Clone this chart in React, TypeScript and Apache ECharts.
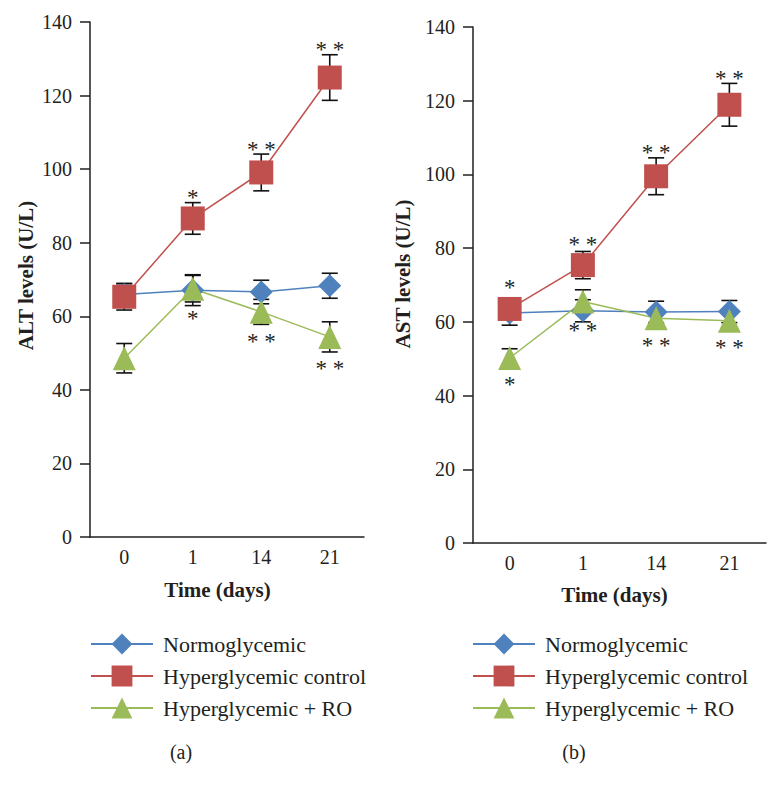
import React, { useEffect, useRef } from "react";
import * as echarts from "echarts";

// ---- data ----
const days = ["0", "1", "14", "21"];
const seriesNames = ["Normoglycemic", "Hyperglycemic control", "Hyperglycemic + RO"];

const altNormo = [65.9, 67.1, 66.6, 68.3];
const altNormoErr = [3.0, 4.2, 3.2, 3.4];
const altCtl = [65.3, 86.6, 99.1, 124.9];
const altCtlErr = [3.6, 4.3, 5.0, 6.2];
const altRO = [48.6, 67.5, 61.2, 54.4];
const altROErr = [4.0, 3.6, 3.4, 4.1];
const altCtlSig = ["", "*", "**", "**"];
const altROSig = ["", "*", "**", "**"];

const astNormo = [62.4, 63.0, 62.7, 62.8];
const astNormoErr = [3.3, 3.0, 2.9, 3.0];
const astCtl = [63.5, 75.4, 99.5, 118.9];
const astCtlErr = [2.8, 3.7, 5.0, 5.8];
const astRO = [50.2, 65.5, 61.0, 60.3];
const astROErr = [2.5, 3.2, 2.0, 2.0];
const astCtlSig = ["*", "**", "**", "**"];
const astROSig = ["*", "**", "**", "**"];

const FONT = "'Liberation Serif', 'DejaVu Serif', serif";
const TXT = "#231f20";
const BLUE = "#4F81BD";
const RED = "#C0504D";
const GREEN = "#9BBB59";

function lineSeries(name: string, data: number[], idx: number, color: string, symbol: string, size: number[]) {
  return {
    type: "line",
    name,
    xAxisIndex: idx,
    yAxisIndex: idx,
    data,
    symbol,
    symbolSize: size,
    itemStyle: { color, opacity: 1 },
    lineStyle: { color, width: 1.5 },
    z: 3,
  };
}

function errSeries(means: number[], errs: number[], sigs: string[], above: boolean, idx: number, key: string) {
  return {
    type: "custom",
    name: "err-" + key,
    xAxisIndex: idx,
    yAxisIndex: idx,
    z: 2,
    silent: true,
    data: means.map((m, i) => [i, m, errs[i]]),
    renderItem: (params: any, api: any) => {
      const i = api.value(0);
      const m = api.value(1);
      const e = api.value(2);
      const c = api.coord([i, m]);
      const t = api.coord([i, m + e]);
      const b = api.coord([i, m - e]);
      const x = c[0];
      const hw = 8;
      const st = { stroke: "#111", lineWidth: 1.6 };
      const children: any[] = [
        { type: "line", shape: { x1: x, y1: t[1], x2: x, y2: b[1] }, style: st },
        { type: "line", shape: { x1: x - hw, y1: t[1], x2: x + hw, y2: t[1] }, style: st },
        { type: "line", shape: { x1: x - hw, y1: b[1], x2: x + hw, y2: b[1] }, style: st },
      ];
      const sig = sigs[params.dataIndex];
      if (sig) {
        const y = above ? Math.min(c[1] - 24, t[1] - 8) : Math.max(c[1] + 24, b[1] + 14);
        children.push({
          type: "text",
          x,
          y: y + 3,
          z2: 10,
          style: {
            text: sig.split("").join(" "),
            fontSize: 23,
            fontFamily: FONT,
            fill: TXT,
            align: "center",
            verticalAlign: "middle",
          },
        });
      }
      return { type: "group", children };
    },
  };
}

function xAxis(idx: number, gap: number, shift: number) {
  return {
    type: "category",
    gridIndex: idx,
    data: days,
    boundaryGap: true,
    axisLine: { lineStyle: { color: TXT, width: 1.5 } },
    axisTick: { show: false },
    axisLabel: { fontFamily: FONT, fontSize: 20, color: TXT, margin: 10 },
    name: "Time (days)",
    nameLocation: "middle",
    nameGap: gap,
    nameTextStyle: { fontFamily: FONT, fontSize: 21, fontWeight: "bold", color: TXT, padding: [0, shift, 0, 0] },
  };
}

function yAxis(idx: number, name: string, gap: number, shift: number) {
  return {
    type: "value",
    gridIndex: idx,
    min: 0,
    max: 140,
    interval: 20,
    axisLine: { show: true, lineStyle: { color: TXT, width: 1.5 } },
    axisTick: { show: true, length: 10, lineStyle: { color: TXT, width: 1.5 } },
    splitLine: { show: false },
    axisLabel: { fontFamily: FONT, fontSize: 20, color: TXT, margin: 18 },
    name,
    nameLocation: "middle",
    nameGap: gap,
    nameTextStyle: { fontFamily: FONT, fontSize: 21, fontWeight: "bold", color: TXT, padding: [0, 0, 0, shift] },
  };
}

function legend(left: number) {
  return {
    left,
    top: 633,
    padding: 0,
    orient: "vertical",
    itemWidth: 62,
    itemHeight: 26,
    itemGap: 10,
    selectedMode: false,
    data: seriesNames,
    textStyle: { fontFamily: FONT, fontSize: 22, color: TXT, padding: [0, 0, 0, 5] },
  };
}

export default function App() {
  const ref = useRef<HTMLDivElement>(null);
  useEffect(() => {
    document.body.style.margin = "0";
    const chart = echarts.init(ref.current!, null, { renderer: "svg" });
    const diamond = [23, 23];
    const square = [24, 24];
    const tri = [23, 24];
    chart.setOption({
      animation: false,
      backgroundColor: "#fff",
      grid: [
        { left: 90, top: 22, width: 274, height: 515 },
        { left: 473, top: 27, width: 293, height: 516 },
      ],
      xAxis: [xAxis(0, 42, 19), xAxis(1, 41, 10)],
      yAxis: [yAxis(0, "ALT levels (U/L)", 54, 8), yAxis(1, "AST levels (U/L)", 60, 22)],
      legend: [legend(90), legend(472)],
      graphic: [
        { type: "text", x: 181, y: 752, style: { text: "(a)", fontFamily: FONT, fontSize: 20, fill: TXT, align: "center", verticalAlign: "middle" } },
        { type: "text", x: 574, y: 752, style: { text: "(b)", fontFamily: FONT, fontSize: 20, fill: TXT, align: "center", verticalAlign: "middle" } },
      ],
      series: [
        errSeries(altNormo, altNormoErr, ["", "", "", ""], true, 0, "a1"),
        errSeries(altCtl, altCtlErr, altCtlSig, true, 0, "a2"),
        errSeries(altRO, altROErr, altROSig, false, 0, "a3"),
        lineSeries(seriesNames[0], altNormo, 0, BLUE, "diamond", diamond),
        lineSeries(seriesNames[1], altCtl, 0, RED, "rect", square),
        lineSeries(seriesNames[2], altRO, 0, GREEN, "triangle", tri),
        errSeries(astNormo, astNormoErr, ["", "", "", ""], true, 1, "b1"),
        errSeries(astCtl, astCtlErr, astCtlSig, true, 1, "b2"),
        errSeries(astRO, astROErr, astROSig, false, 1, "b3"),
        lineSeries(seriesNames[0], astNormo, 1, BLUE, "diamond", diamond),
        lineSeries(seriesNames[1], astCtl, 1, RED, "rect", square),
        lineSeries(seriesNames[2], astRO, 1, GREEN, "triangle", tri),
      ],
    });
    return () => chart.dispose();
  }, []);
  return <div ref={ref} style={{ width: 780, height: 797 }} />;
}
